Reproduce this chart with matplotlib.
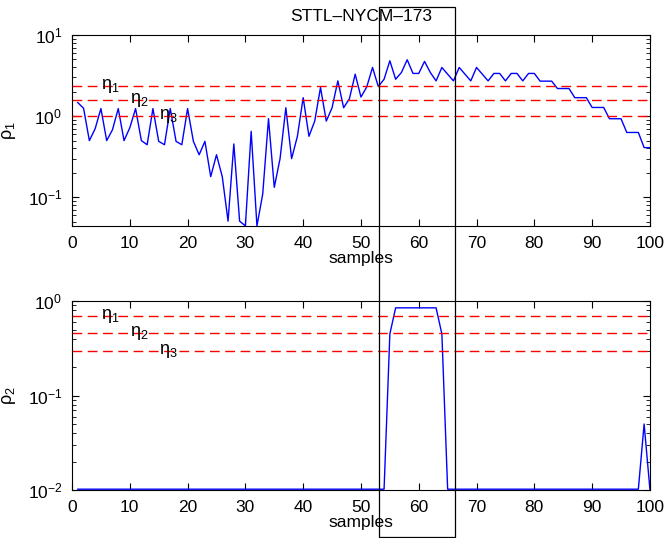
import matplotlib
matplotlib.use('Agg')
import matplotlib.pyplot as plt
import matplotlib.transforms as mtransforms
from matplotlib.patches import Rectangle
import numpy as np

plt.rcParams['font.family'] = ['Liberation Sans', 'DejaVu Sans']
plt.rcParams['mathtext.fontset'] = 'custom'
plt.rcParams['mathtext.rm'] = 'Liberation Sans'
plt.rcParams['mathtext.it'] = 'Liberation Sans'
plt.rcParams['mathtext.default'] = 'regular'

# --- data ---
samples = np.arange(1, 101)
rho1 = [1.47, 1.25, 0.50, 0.70, 1.24, 0.50, 0.68, 1.24, 0.50, 0.72,
        1.24, 0.50, 0.445, 1.24, 0.49, 0.445, 1.24, 0.49, 0.445, 1.24,
        0.49, 0.335, 0.49, 0.18, 0.335, 0.18, 0.051, 0.455, 0.051, 0.0445,
        0.65, 0.0445, 0.11, 0.93, 0.133, 0.30, 1.27, 0.30, 0.565, 1.69,
        0.565, 0.87, 2.25, 0.87, 1.27, 2.72, 1.27, 1.64, 3.29, 1.72,
        2.29, 3.98, 2.32, 2.85, 4.81, 2.85, 3.45, 4.95, 3.36, 3.36,
        4.73, 3.45, 2.72, 3.98, 3.29, 2.72, 3.98, 3.29, 2.72, 3.98,
        3.29, 2.72, 3.36, 3.36, 2.72, 3.36, 3.36, 2.72, 3.36, 3.36,
        2.70, 2.70, 2.70, 2.19, 2.19, 2.19, 1.69, 1.69, 1.69, 1.28,
        1.28, 1.28, 0.93, 0.93, 0.93, 0.63, 0.63, 0.63, 0.41, 0.41]
rho2 = [0.0102] * 54 + [0.45] + [0.85] * 8 + [0.45] + [0.0102] * 34 + [0.05, 0.0102]
eta_top = [2.35, 1.57, 1.0]
eta_bottom = [0.70, 0.46, 0.30]
eta_labels = ['η$_1$', 'η$_2$', 'η$_3$']
eta_text_x = [5, 10, 15]
window = (53.2, 66.2)

fig = plt.figure(figsize=(6.65, 5.38), dpi=100)
ax1 = fig.add_axes([0.1083, 0.580, 0.869, 0.355])
ax2 = fig.add_axes([0.1083, 0.0892, 0.869, 0.351])


def style(ax, ylim):
    ax.set_yscale('log')
    ax.set_xlim(0, 100)
    ax.set_ylim(*ylim)
    ax.set_xticks(range(0, 101, 10))
    ax.tick_params(which='both', direction='in', top=True, right=True, labelsize=12.5)
    ax.tick_params(axis='x', pad=7)
    ax.tick_params(axis='y', pad=7)
    ax.tick_params(which='major', length=5, width=0.8)
    ax.tick_params(which='minor', length=3, width=0.6)
    ax.set_xlabel('samples', fontsize=12.5, labelpad=0)
    for s in ax.spines.values():
        s.set_linewidth(0.8)


# --- top: rho_1 ---
ax1.plot(samples, rho1, color='b', lw=1)
for e, lab, tx in zip(eta_top, eta_labels, eta_text_x):
    ax1.axhline(e, color='r', ls=(0, (7, 4)), lw=1)
    ax1.text(tx, e, lab, fontsize=13, va='center', ha='left')
style(ax1, (10 ** -1.352, 10))
ax1.set_ylabel('ρ$_1$', fontsize=13)
ax1.yaxis.set_label_coords(-0.093, 0.5)
ax1.set_title('STTL–NYCM–173', fontsize=12.5, pad=10)

# --- bottom: rho_2 ---
ax2.plot(samples, rho2, color='b', lw=1)
for e, lab, tx in zip(eta_bottom, eta_labels, eta_text_x):
    ax2.axhline(e, color='r', ls=(0, (7, 4)), lw=1)
    ax2.text(tx, e, lab, fontsize=13, va='center', ha='left')
style(ax2, (0.01, 1))
ax2.set_ylabel('ρ$_2$', fontsize=13)
ax2.yaxis.set_label_coords(-0.093, 0.5)

# window box spanning both panels
trans = mtransforms.blended_transform_factory(ax1.transData, fig.transFigure)
rect = Rectangle((window[0], 0.002), window[1] - window[0], 0.985,
                 transform=trans, fill=False, edgecolor='black', lw=0.9)
fig.add_artist(rect)

fig.savefig('out.png', dpi=100)
